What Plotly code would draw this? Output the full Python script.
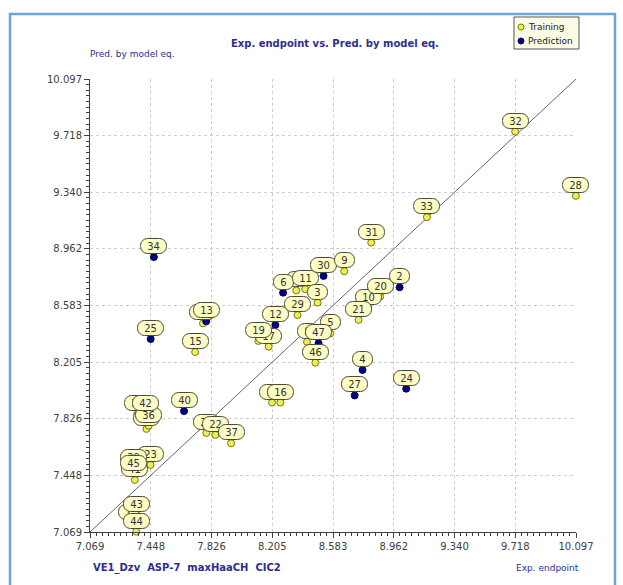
import plotly.graph_objects as go

# Compound numbers, experimental endpoint, predicted value, and set membership
# (T = training, P = prediction).  Listed in drawing order: later labels sit on top.
ids = [1, 14, 8, 18, 26, 35, 38, 7, 23, 39, 41, 45, 43, 44, 36, 42, 40, 22, 37, 16,
       17, 19, 12, 13, 15, 25, 34, 29, 6, 11, 3, 30, 9, 5, 47, 46, 10, 20, 21, 2,
       4, 27, 24, 31, 33, 32, 28]
exp_endpoint = [8.354, 7.773, 8.421, 8.203, 7.794, 7.364, 7.421, 7.311, 7.446, 7.342,
                7.348, 7.342, 7.357, 7.357, 7.435, 7.414, 7.655, 7.850, 7.948, 8.255,
                8.182, 8.118, 8.224, 7.793, 7.724, 7.447, 7.467, 8.362, 8.272, 8.410,
                8.487, 8.524, 8.653, 8.566, 8.493, 8.473, 8.803, 8.877, 8.742, 8.998,
                8.767, 8.718, 9.039, 8.821, 9.168, 9.718, 10.096]
pred_model = [8.684, 8.463, 8.340, 7.934, 7.731, 7.858, 7.758, 7.126, 7.517, 7.495,
              7.417, 7.460, 7.186, 7.071, 7.780, 7.858, 7.877, 7.718, 7.662, 7.934,
              8.308, 8.346, 8.453, 8.477, 8.272, 8.359, 8.907, 8.519, 8.669, 8.692,
              8.602, 8.781, 8.812, 8.396, 8.331, 8.201, 8.567, 8.643, 8.487, 8.705,
              8.152, 7.982, 8.027, 9.004, 9.173, 9.746, 9.316]
sets = ["T", "T", "T", "T", "T", "T", "T", "T", "T", "T",
        "T", "T", "T", "T", "T", "T", "P", "T", "T", "T",
        "T", "T", "P", "P", "T", "P", "P", "T", "P", "T",
        "T", "P", "T", "T", "P", "T", "T", "T", "T", "P",
        "P", "P", "P", "T", "T", "T", "T"]

axis_min, axis_max = 7.069, 10.097
tick_labels = ["7.069", "7.448", "7.826", "8.205", "8.583",
               "8.962", "9.340", "9.718", "10.097"]

step = (axis_max - axis_min) / 8
tick_vals = [axis_min + i * step for i in range(9)]
minor_vals = [axis_min + i * step / 10 for i in range(81) if i % 10]

FONT = "DejaVu Sans"
BLUE_TEXT = "#2e2e8c"
TRAIN_FILL, TRAIN_EDGE = "#eeee55", "#7a7a10"
PRED_FILL = "#000080"

fig = go.Figure()

# y = x reference line
fig.add_trace(go.Scatter(
    x=[axis_min, axis_max], y=[axis_min, axis_max], mode="lines",
    line=dict(color="#666666", width=1), hoverinfo="skip", showlegend=False))

tx = [x for x, s in zip(exp_endpoint, sets) if s == "T"]
ty = [y for y, s in zip(pred_model, sets) if s == "T"]
px = [x for x, s in zip(exp_endpoint, sets) if s == "P"]
py = [y for y, s in zip(pred_model, sets) if s == "P"]

fig.add_trace(go.Scatter(
    x=tx, y=ty, mode="markers", name="Training", cliponaxis=False,
    marker=dict(size=7, color=TRAIN_FILL, line=dict(color=TRAIN_EDGE, width=1)),
    showlegend=False))
fig.add_trace(go.Scatter(
    x=px, y=py, mode="markers", name="Prediction", cliponaxis=False,
    marker=dict(size=7, color=PRED_FILL, line=dict(color="#00005a", width=1)),
    showlegend=False))

annotations = []
# Numbered callout above each compound's marker
for n, x, y in zip(ids, exp_endpoint, pred_model):
    label = str(n)
    annotations.append(dict(
        x=x, y=y, xref="x", yref="y", text=label, showarrow=False,
        yanchor="bottom", xanchor="center", yshift=3,
        width=21 if len(label) > 1 else 15, height=10,
        bgcolor="#fdfdc4", bordercolor="#4a4a3a", borderwidth=1, borderpad=2,
        font=dict(family=FONT, size=10, color="#333333")))

# Header and axis captions
annotations += [
    dict(text="<b>Exp. endpoint vs. Pred. by model eq.</b>", xref="paper", yref="paper",
         x=0.504, y=1.0773, xanchor="center", yanchor="middle", showarrow=False,
         font=dict(family=FONT, size=10, color=BLUE_TEXT)),
    dict(text="Pred. by model eq.", xref="paper", yref="paper",
         x=-0.004, y=1.0552, xanchor="left", yanchor="middle", showarrow=False,
         font=dict(family=FONT, size=9, color=BLUE_TEXT)),
    dict(text="<b>VE1_Dzv  ASP-7  maxHaaCH  CIC2</b>", xref="paper", yref="paper",
         x=0.0014, y=-0.0795, xanchor="left", yanchor="middle", showarrow=False,
         font=dict(family=FONT, size=10, color=BLUE_TEXT)),
    dict(text="Exp. endpoint", xref="paper", yref="paper",
         x=1.0103, y=-0.0795, xanchor="right", yanchor="middle", showarrow=False,
         font=dict(family=FONT, size=9, color=BLUE_TEXT)),
    # legend entries
    dict(text="Training", xref="paper", yref="paper",
         x=0.8971, y=1.1148, xanchor="left", yanchor="middle", showarrow=False,
         font=dict(family=FONT, size=9, color="#222222")),
    dict(text="Prediction", xref="paper", yref="paper",
         x=0.8971, y=1.0839, xanchor="left", yanchor="middle", showarrow=False,
         font=dict(family=FONT, size=9, color="#222222")),
]

shapes = [
    # outer frame
    dict(type="rect", xref="paper", yref="paper", x0=-0.1646, x1=1.0802,
         y0=-0.25, y1=1.1435, line=dict(color="#6fa3d9", width=2.5),
         fillcolor="rgba(0,0,0,0)", layer="below"),
    # legend box
    dict(type="rect", xref="paper", yref="paper", x0=0.8724, x1=1.0062,
         y0=1.0662, y1=1.1369, line=dict(color="#555555", width=1),
         fillcolor="#fbfbe6"),
    dict(type="circle", xref="paper", yref="paper", xsizemode="pixel", ysizemode="pixel",
         xanchor=0.8868, yanchor=1.1148, x0=-3, x1=3, y0=-3, y1=3,
         fillcolor=TRAIN_FILL, line=dict(color=TRAIN_EDGE, width=1)),
    dict(type="circle", xref="paper", yref="paper", xsizemode="pixel", ysizemode="pixel",
         xanchor=0.8868, yanchor=1.0839, x0=-3, x1=3, y0=-3, y1=3,
         fillcolor=PRED_FILL, line=dict(color="#00005a", width=1)),
]

axis_common = dict(
    range=[axis_min, axis_max], tickmode="array", tickvals=tick_vals, ticktext=tick_labels,
    showline=True, linecolor="#404040", linewidth=1, mirror=False,
    ticks="outside", ticklen=5, tickcolor="#404040", tickwidth=1,
    tickfont=dict(family=FONT, size=10, color="#404040"),
    showgrid=True, gridcolor="#cccccc", gridwidth=1, griddash="dot",
    zeroline=False, fixedrange=True,
    minor=dict(tickvals=minor_vals, ticks="outside", ticklen=3,
               tickcolor="#404040", tickwidth=1, showgrid=False),
)

fig.update_layout(
    width=623, height=585,
    margin=dict(l=90, r=47, t=79, b=53),
    paper_bgcolor="white", plot_bgcolor="white",
    xaxis=axis_common, yaxis=axis_common,
    annotations=annotations, shapes=shapes,
    showlegend=False,
)

# round the callout boxes
round_js = """
document.querySelectorAll('g.annotation rect.bg').forEach(function (r) {
  r.setAttribute('rx', '7'); r.setAttribute('ry', '7');
});
"""

fig.write_html("out.html", post_script=round_js)
